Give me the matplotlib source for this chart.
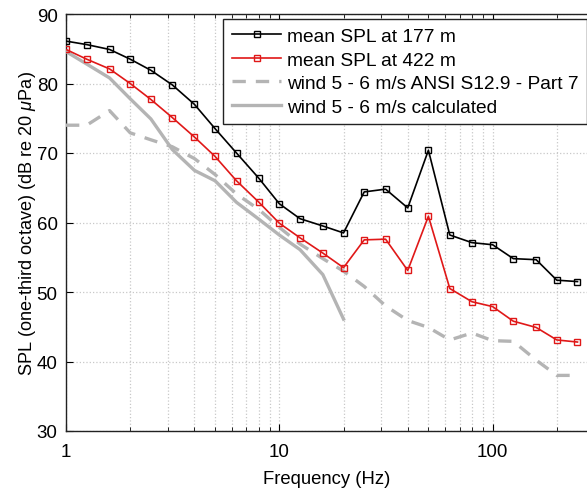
import matplotlib
matplotlib.use("Agg")
import matplotlib.pyplot as plt
from matplotlib.ticker import LogLocator, FixedLocator, NullFormatter, FixedFormatter

plt.rcParams['font.family'] = ['Liberation Sans', 'DejaVu Sans']
plt.rcParams['mathtext.fontset'] = 'custom'
plt.rcParams['mathtext.it'] = 'Liberation Sans:italic'

freq = [1, 1.25, 1.6, 2, 2.5, 3.15, 4, 5, 6.3, 8, 10, 12.5, 16, 20,
        25, 31.5, 40, 50, 63, 80, 100, 125, 160, 200, 250]
spl_177 = [86.1, 85.6, 84.9, 83.5, 81.9, 79.8, 77.0, 73.5, 70.0, 66.4, 62.7, 60.55, 59.5, 58.5,
           64.4, 64.8, 62.1, 70.4, 58.2, 57.1, 56.8, 54.8, 54.65, 51.7, 51.5]
spl_422 = [84.9, 83.5, 82.1, 80.0, 77.7, 75.1, 72.3, 69.5, 66.0, 62.95, 59.9, 57.8, 55.6, 53.5,
           57.5, 57.6, 53.1, 60.9, 50.5, 48.6, 47.9, 45.8, 44.9, 43.1, 42.8]
ansi = [74.0, 74.0, 76.1, 72.9, 71.9, 70.9, 69.2, 66.9, 64.1, 61.9, 59.3, 56.9, 54.8, 53.0,
        50.8, 48.0, 45.9, 44.9, 43.1, 44.1, 43.0, 42.9, 40.2, 38.0, 38.0]
freq_calc = [1, 1.25, 1.6, 2, 2.5, 3.15, 4, 5, 6.3, 8, 10, 12.5, 16, 20]
calc = [84.6, 82.8, 80.8, 77.8, 74.9, 70.5, 67.5, 66.0, 62.9, 60.5, 58.2, 56.1, 52.5, 46.1]

labels = ['mean SPL at 177 m', 'mean SPL at 422 m',
          'wind 5 - 6 m/s ANSI S12.9 - Part 7', 'wind 5 - 6 m/s calculated']

fig = plt.figure(figsize=(5.87, 4.89), dpi=100)
ax = fig.add_axes([66/587, 1-432/489, 1-66/587, (432-15)/489])

gray = '#b4b4b4'
ax.plot(freq, spl_177, color='black', lw=1.2, marker='s', ms=5, mfc='none', mew=1.0, label=labels[0], zorder=4)
ax.plot(freq, spl_422, color='#e01818', lw=1.2, marker='s', ms=5, mfc='none', mew=1.0, label=labels[1], zorder=4)
ax.plot(freq, ansi, color=gray, lw=2.4, ls=(0, (4, 3)), label=labels[2], zorder=3)
ax.plot(freq_calc, calc, color=gray, lw=2.4, label=labels[3], zorder=3)

ax.set_xscale('log')
ax.set_xlim(1, 277)
ax.set_ylim(30, 90)
ax.set_yticks([30, 40, 50, 60, 70, 80, 90])
ax.xaxis.set_major_locator(FixedLocator([1, 10, 100]))
ax.xaxis.set_major_formatter(FixedFormatter(['1', '10', '100']))
ax.xaxis.set_minor_locator(LogLocator(base=10, subs=range(2, 10)))
ax.xaxis.set_minor_formatter(NullFormatter())

ax.grid(True, which='major', color='#c8c8c8', ls=':', lw=0.9)
ax.grid(True, which='minor', axis='x', color='#c8c8c8', ls=':', lw=0.9)
ax.set_axisbelow(True)

ax.tick_params(which='both', direction='in', top=True, right=False, labelsize=13.5)
ax.tick_params(axis='y', pad=6)
ax.tick_params(axis='x', pad=9)
ax.tick_params(which='major', length=5)
ax.tick_params(which='minor', length=3)
for s in ['left', 'bottom', 'top']:
    ax.spines[s].set_linewidth(1.0)
    ax.spines[s].set_color('#222222')
ax.spines['right'].set_visible(False)

ax.set_xlabel('Frequency (Hz)', fontsize=13.3, labelpad=7)
ax.set_ylabel(r'SPL (one-third octave) (dB re 20 $\mu$Pa)', fontsize=13.1, labelpad=-1)

leg = ax.legend(loc='upper left', bbox_to_anchor=((223-66)/521, (432-20)/417),
                fontsize=13.8, frameon=True, fancybox=False, framealpha=1,
                edgecolor='#222222', handlelength=2.6, handletextpad=0.27,
                borderpad=0.45, labelspacing=0.32, borderaxespad=0)
leg.get_frame().set_linewidth(1.0)

fig.savefig('out.png', dpi=100)
